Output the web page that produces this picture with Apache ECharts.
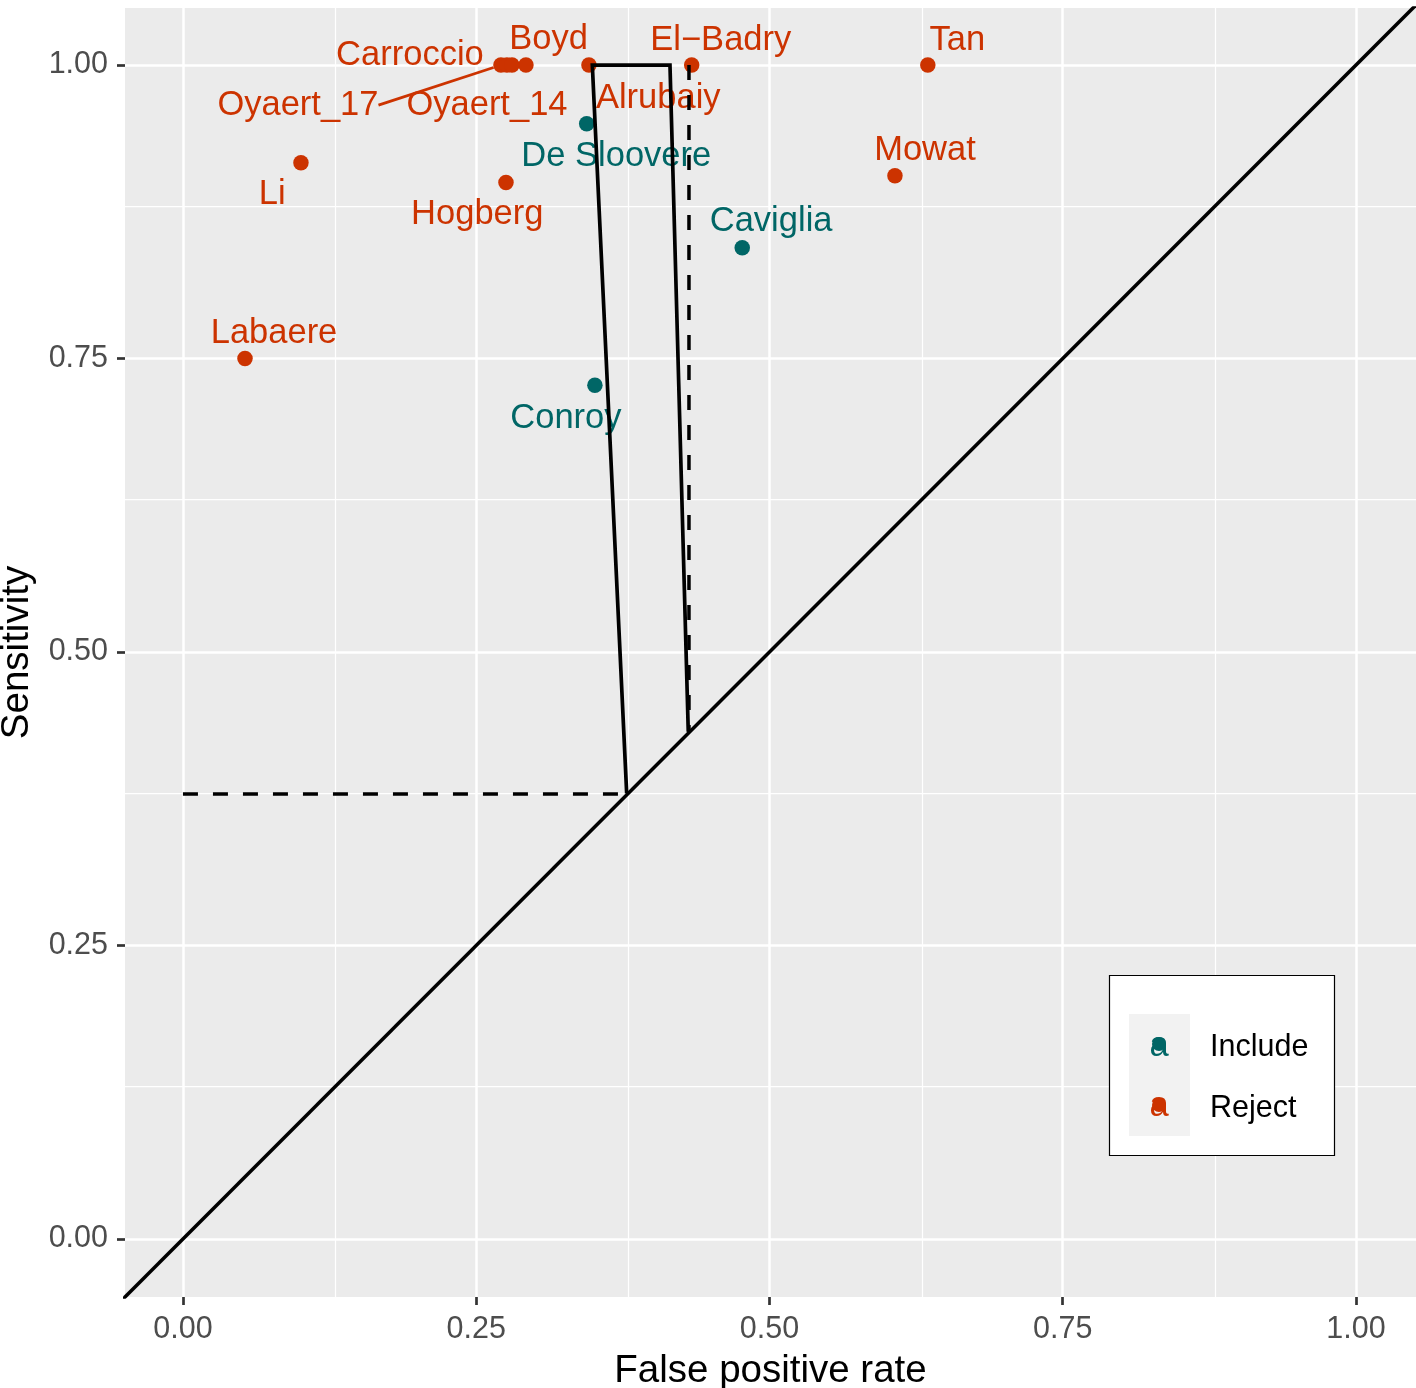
<!DOCTYPE html>
<html>
<head>
<meta charset="utf-8">
<script src="https://cdn.jsdelivr.net/npm/echarts@6/dist/echarts.min.js"></script>
<style>
html,body{margin:0;padding:0;background:#ffffff;}
#chart{width:1416px;height:1388px;}
</style>
</head>
<body>
<div id="chart"></div>
<script>
// ---------------- data ----------------
const rejectNames = ['Oyaert_17','Carroccio','Oyaert_14','Boyd','Alrubaiy','El\u2212Badry','Tan','Li','Hogberg','Mowat','Labaere'];
const rejectFPR   = [0.2711, 0.2762, 0.2805, 0.2924, 0.3461, 0.4337, 0.6350, 0.1006, 0.2754, 0.6070, 0.0529];
const rejectSens  = [1.0000, 1.0000, 1.0000, 1.0000, 1.0000, 1.0000, 1.0000, 0.9167, 0.9000, 0.9057, 0.7500];

const includeNames = ['De Sloovere','Caviglia','Conroy'];
const includeFPR   = [0.3442, 0.4768, 0.3512];
const includeSens  = [0.9500, 0.8444, 0.7273];

// solid boundary path
const boundFPR  = [0.3783, 0.3490, 0.4152, 0.4308];
const boundSens = [0.3796, 1.0000, 1.0000, 0.4321];
// dashed guides
const hDashFPR  = [0.0000, 0.3790];
const hDashSens = [0.3790, 0.3790];
const vDashFPR  = [0.4314, 0.4314];
const vDashSens = [1.0000, 0.4314];
// diagonal (reference line y = x), clipped by the panel
const diagVals = [-0.08, 1.08];

const majorTicks = [0, 0.25, 0.5, 0.75, 1];
const minorTicks = [0.125, 0.375, 0.625, 0.875];
const legendNames = ['Include', 'Reject'];

// ---------------- styles ----------------
const COL_REJECT = '#CC3300';
const COL_INCLUDE = '#006666';
const FONT = 'Liberation Sans, Arial, Helvetica, sans-serif';
const LABEL_SHIFT_Y = 3;
const labelOffsets = {
  'Oyaert_17': [-203, 37], 'Carroccio': [-97, -12.5], 'Oyaert_14': [-25, 37],
  'Boyd': [22.6, -28.3], 'Alrubaiy': [69.3, 30.3], 'El\u2212Badry': [29.1, -27.2],
  'Tan': [29.6, -27.2], 'Li': [-28.7, 28.7], 'Hogberg': [-28.7, 28.7],
  'Mowat': [30, -28.5], 'Labaere': [29, -28.5],
  'De Sloovere': [29.6, 29.7], 'Caviglia': [28.9, -28.9], 'Conroy': [-29, 30.1]
};
const withLine = { 'Oyaert_17': true };

function zip(a, b) { return a.map((v, i) => [v, b[i]]); }
function pointItems(names, xs, ys, color) {
  return names.map((n, i) => {
    const item = { name: n, value: [xs[i], ys[i]] };
    if (withLine[n]) {
      item.labelLine = { show: true, lineStyle: { color: color, width: 2.8, opacity: 1 } };
    }
    return item;
  });
}

const gridLineData = [];
majorTicks.forEach(v => {
  gridLineData.push({ xAxis: v, lineStyle: { width: 2.5 } });
  gridLineData.push({ yAxis: v, lineStyle: { width: 2.5 } });
});
minorTicks.forEach(v => {
  gridLineData.push({ xAxis: v, lineStyle: { width: 1.25 } });
  gridLineData.push({ yAxis: v, lineStyle: { width: 1.25 } });
});

const tickLabelStyle = { fontSize: 30.5, color: '#4D4D4D', fontFamily: FONT };

function scatterSeries(name, names, xs, ys, color) {
  return {
    name: name, type: 'scatter', z: 2,
    symbol: 'circle', symbolSize: 15.5,
    itemStyle: { color: color, opacity: 1 },
    data: pointItems(names, xs, ys, color),
    label: {
      show: true, position: 'inside', formatter: '{b}',
      color: color, fontSize: 34.5, fontFamily: FONT,
      align: 'center', verticalAlign: 'middle'
    },
    labelLine: { show: false },
    labelLayout: function (p) {
      const o = labelOffsets[p.text] || [0, 0];
      return { dx: o[0], dy: o[1] + LABEL_SHIFT_Y };
    },
    emphasis: { disabled: true },
    animation: false
  };
}

const option = {
  animation: false,
  backgroundColor: '#ffffff',
  grid: {
    left: 125, right: 0, top: 8, bottom: 91,
    show: true, backgroundColor: '#EBEBEB', borderWidth: 0,
    containLabel: false, outerBoundsMode: 'none'
  },
  xAxis: {
    type: 'value', min: -0.0494, max: 1.0512,
    name: 'False positive rate', nameLocation: 'middle', nameGap: 55,
    nameTextStyle: { fontSize: 38.5, color: '#000000', fontFamily: FONT },
    axisLine: { show: false, onZero: false },
    axisTick: { show: true, length: 8, customValues: majorTicks, lineStyle: { color: '#333333', width: 2.7 } },
    axisLabel: { customValues: majorTicks, margin: 17, formatter: v => v.toFixed(2), ...tickLabelStyle },
    splitLine: { show: false }, minorSplitLine: { show: false }
  },
  yAxis: {
    type: 'value', min: -0.0494, max: 1.0486,
    name: 'Sensitivity', nameLocation: 'middle', nameGap: 88,
    nameTextStyle: { fontSize: 38.5, color: '#000000', fontFamily: FONT },
    axisLine: { show: false, onZero: false },
    axisTick: { show: true, length: 8, customValues: majorTicks, lineStyle: { color: '#333333', width: 2.7 } },
    axisLabel: { customValues: majorTicks, margin: 17, formatter: v => v.toFixed(2), ...tickLabelStyle },
    splitLine: { show: false }, minorSplitLine: { show: false }
  },
  legend: {
    data: legendNames, orient: 'vertical', left: 1152, top: 1024.5,
    icon: 'circle', itemWidth: 14, itemHeight: 14, itemGap: 22, padding: 0,
    z: 10, selectedMode: false,
    formatter: name => '{t|' + name + '}',
    textStyle: {
      fontSize: 30.5, color: '#000000', fontFamily: FONT,
      rich: { t: { fontSize: 30.5, color: '#000000', fontFamily: FONT, lineHeight: 30, padding: [8, 0, 0, 39] } }
    }
  },
  graphic: [
    { type: 'rect', z: 5, silent: true, shape: { x: 1109.5, y: 975.5, width: 225, height: 180 },
      style: { fill: '#ffffff', stroke: '#000000', lineWidth: 1.2 } },
    { type: 'rect', z: 6, silent: true, shape: { x: 1129, y: 1014, width: 61, height: 122 },
      style: { fill: '#F2F2F2' } },
    { type: 'text', z: 7, silent: true, style: { text: 'a', x: 1159, y: 1046, align: 'center', verticalAlign: 'middle',
      fill: COL_INCLUDE, fontSize: 34.5, fontFamily: FONT } },
    { type: 'text', z: 7, silent: true, style: { text: 'a', x: 1159, y: 1106, align: 'center', verticalAlign: 'middle',
      fill: COL_REJECT, fontSize: 34.5, fontFamily: FONT } }
  ],
  series: [
    {
      name: 'gridlines', type: 'scatter', z: 1, data: [], silent: true,
      markLine: {
        z: 1, silent: true, symbol: ['none', 'none'], animation: false,
        label: { show: false },
        lineStyle: { color: '#ffffff', type: 'solid', opacity: 1 },
        emphasis: { disabled: true },
        data: gridLineData
      }
    },
    scatterSeries('Reject', rejectNames, rejectFPR, rejectSens, COL_REJECT),
    scatterSeries('Include', includeNames, includeFPR, includeSens, COL_INCLUDE),
    {
      name: 'diag', type: 'line', z: 3, data: zip(diagVals, diagVals), symbol: 'none', clip: true,
      lineStyle: { color: '#000000', width: 3.5 }, silent: true, emphasis: { disabled: true }
    },
    {
      name: 'boundary', type: 'line', z: 3, data: zip(boundFPR, boundSens), symbol: 'none', clip: true,
      lineStyle: { color: '#000000', width: 3.7, join: 'miter' }, silent: true, emphasis: { disabled: true }
    },
    {
      name: 'hdash', type: 'line', z: 3, data: zip(hDashFPR, hDashSens), symbol: 'none',
      lineStyle: { color: '#000000', width: 3.5, type: [15, 15], cap: 'butt' }, silent: true, emphasis: { disabled: true }
    },
    {
      name: 'vdash', type: 'line', z: 3, data: zip(vDashFPR, vDashSens), symbol: 'none',
      lineStyle: { color: '#000000', width: 3.5, type: [15, 15], cap: 'butt' }, silent: true, emphasis: { disabled: true }
    }
  ]
};

const chart = echarts.init(document.getElementById('chart'), null, { renderer: 'canvas' });
chart.setOption(option);
</script>
</body>
</html>
